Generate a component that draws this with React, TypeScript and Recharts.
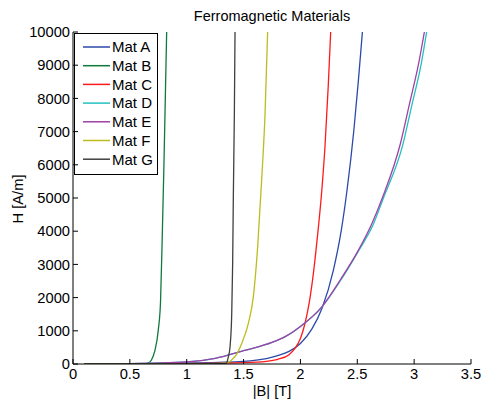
import React from "react";
import { Customized, Line, LineChart, XAxis, YAxis } from "recharts";

type Pt = { b: number; h: number };

const mk = (bs: number[], hs: number[]): Pt[] => bs.map((b, i) => ({ b, h: hs[i] }));

const matAB = [0.1, 0.5, 1.0, 1.5, 1.7, 1.8, 1.9, 2.0, 2.1, 2.19, 2.29, 2.36, 2.41, 2.47, 2.51, 2.545, 2.56];
const matAH = [5, 10, 30, 80, 160, 250, 380, 620, 1050, 1680, 2830, 4040, 5240, 7050, 8550, 10000, 10600];

const matBB = [0.1, 0.5, 0.6, 0.64, 0.66, 0.69, 0.72, 0.75, 0.77, 0.786, 0.8, 0.812, 0.824, 0.83];
const matBH = [0, 2, 5, 10, 25, 120, 400, 1020, 1900, 4000, 6050, 8050, 10060, 11000];

const matCB = [0.1, 1.0, 1.5, 1.7, 1.8, 1.9, 1.95, 2.0, 2.04, 2.08, 2.114, 2.15, 2.187, 2.216, 2.245, 2.266, 2.28];
const matCH = [0, 15, 40, 80, 140, 280, 460, 770, 1220, 1900, 2730, 3850, 5190, 6550, 8400, 10000, 11100];

const matDB = [0.1, 0.5, 1.0, 1.25, 1.5, 1.75, 1.87, 2.0, 2.19, 2.35, 2.51, 2.64, 2.73, 2.9, 2.98, 3.06, 3.11, 3.13];
const matDH = [0, 10, 60, 170, 400, 650, 830, 1130, 1720, 2500, 3400, 4200, 5000, 6600, 7800, 9000, 10000, 10400];

const matEB = [0.1, 0.5, 1.0, 1.25, 1.5, 1.75, 1.87, 2.0, 2.19, 2.35, 2.51, 2.63, 2.72, 2.88, 2.96, 3.04, 3.09, 3.11];
const matEH = [0, 10, 60, 170, 400, 650, 830, 1130, 1730, 2530, 3430, 4240, 5000, 6650, 7850, 9060, 10000, 10400];

const matFB = [0.1, 1.0, 1.3, 1.366, 1.4, 1.44, 1.484, 1.542, 1.586, 1.624, 1.659, 1.689, 1.712, 1.72];
const matFH = [0, 3, 15, 50, 140, 300, 620, 1225, 2030, 3530, 5540, 7550, 10060, 11000];

const matGB = [0.1, 1.0, 1.3, 1.34, 1.352, 1.365, 1.381, 1.396, 1.404, 1.41, 1.419, 1.425, 1.43];
const matGH = [0, 3, 8, 15, 40, 200, 520, 1530, 3030, 5040, 7550, 10060, 11500];

const xTicks = [0, 0.5, 1, 1.5, 2, 2.5, 3, 3.5];
const yTicks = [0, 1000, 2000, 3000, 4000, 5000, 6000, 7000, 8000, 9000, 10000];

const series = [
  { name: "Mat A", color: "#2b4aa8", data: mk(matAB, matAH) },
  { name: "Mat B", color: "#0f7a3c", data: mk(matBB, matBH) },
  { name: "Mat C", color: "#ff1a1a", data: mk(matCB, matCH) },
  { name: "Mat D", color: "#22c0c0", data: mk(matDB, matDH) },
  { name: "Mat E", color: "#a040a8", data: mk(matEB, matEH) },
  { name: "Mat F", color: "#bcbc20", data: mk(matFB, matFH) },
  { name: "Mat G", color: "#404040", data: mk(matGB, matGH) },
];

const FONT = '"Liberation Sans", Arial, sans-serif';
const tickStyle = { fontSize: 14.7, fill: "#000", fontFamily: FONT };
const axisLine = { stroke: "#000", strokeWidth: 1 };

// title, axis labels and the legend box (MATLAB style)
function Labels() {
  return (
    <g fontFamily={FONT} fill="#000">
      <text x={272} y={21} textAnchor="middle" fontSize={14.5}>
        Ferromagnetic Materials
      </text>
      <text x={272} y={396} textAnchor="middle" fontSize={14.7}>
        |B| [T]
      </text>
      <text x={23} y={199} textAnchor="middle" fontSize={14.7} transform="rotate(-90 23 199)">
        H [A/m]
      </text>
      <rect x={74.5} y={33.5} width={83} height={141} fill="#fff" stroke="#000" />
      {series.map((s, i) => {
        const y = 47 + i * 18.7;
        return (
          <g key={s.name}>
            <line x1={83} x2={110} y1={y} y2={y} stroke={s.color} strokeWidth={1.5} />
            <text x={112} y={y + 5.3} fontSize={15} fill="#000">
              {s.name}
            </text>
          </g>
        );
      })}
    </g>
  );
}

export default function App() {
  return (
    <div style={{ position: "fixed", left: 0, top: 0, width: 481, height: 404, background: "#fff" }}>
      <LineChart width={481} height={404} margin={{ top: 32, right: 10, bottom: 0, left: 0 }}>
        <XAxis
          xAxisId="0"
          dataKey="b"
          type="number"
          domain={[0, 3.5]}
          ticks={xTicks}
          interval={0}
          allowDataOverflow
          height={40}
          tickSize={-5}
          tickMargin={10}
          tick={tickStyle}
          axisLine={axisLine}
          tickLine={{ stroke: "#000" }}
        />
        <XAxis
          xAxisId="top"
          orientation="top"
          dataKey="b"
          type="number"
          domain={[0, 3.5]}
          ticks={xTicks}
          interval={0}
          allowDataOverflow
          height={0}
          tickSize={-5}
          tickFormatter={() => ""}
          axisLine={axisLine}
          tickLine={{ stroke: "#000" }}
        />
        <YAxis
          yAxisId="0"
          dataKey="h"
          type="number"
          domain={[0, 10000]}
          ticks={yTicks}
          interval={0}
          allowDataOverflow
          width={73}
          tickSize={-5}
          tickMargin={8}
          tick={tickStyle}
          axisLine={axisLine}
          tickLine={{ stroke: "#000" }}
        />
        <YAxis
          yAxisId="right"
          orientation="right"
          dataKey="h"
          type="number"
          domain={[0, 10000]}
          ticks={yTicks}
          interval={0}
          allowDataOverflow
          width={0}
          tickSize={-5}
          tickFormatter={() => ""}
          axisLine={axisLine}
          tickLine={{ stroke: "#000" }}
        />
        {series.map((s) => (
          <Line
            key={s.name}
            xAxisId="0"
            yAxisId="0"
            data={s.data}
            dataKey="h"
            name={s.name}
            type="monotone"
            stroke={s.color}
            strokeWidth={1.3}
            dot={false}
            activeDot={false}
            isAnimationActive={false}
          />
        ))}
        <Customized component={Labels} />
      </LineChart>
    </div>
  );
}
